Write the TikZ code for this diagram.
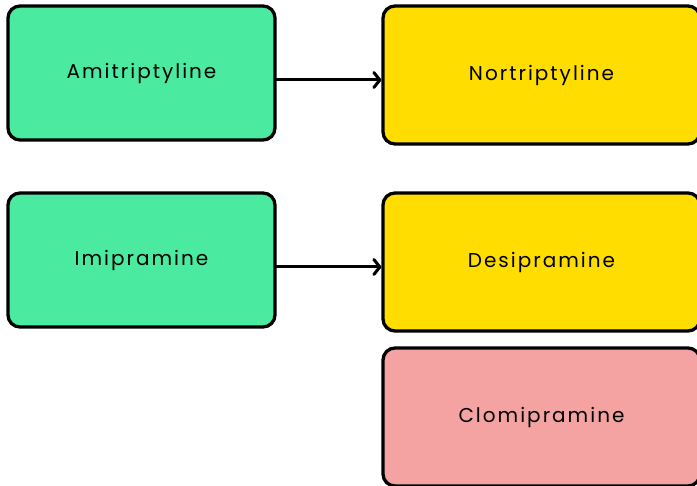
\documentclass[tikz,border=0pt]{standalone}
\usepackage{fontspec}
\setmainfont[LetterSpace=10]{Poppins}
\usetikzlibrary{arrows.meta}
\definecolor{drugGreen}{RGB}{74,235,160}
\definecolor{drugYellow}{RGB}{255,221,0}
\definecolor{drugPink}{RGB}{245,162,162}
\tikzset{
  drug/.style={draw=black, line width=3.3pt, rounded corners=12pt, font=\fontsize{20}{24}\selectfont},
  parent/.style={drug, fill=drugGreen, minimum width=267pt, minimum height=134pt},
  product/.style={drug, minimum width=317pt, minimum height=138pt},
  conv/.style={line width=3pt, line cap=round, -{Straight Barb[round,length=6pt,width=15pt]}}
}
\begin{document}
\begin{tikzpicture}[x=1pt,y=-1pt]
\useasboundingbox[fill=white] (0,0) rectangle (697,486);
\node[parent] (ami) at (141.5,73) {Amitriptyline};
\node[product, fill=drugYellow] (nor) at (541.5,75) {Nortriptyline};
\node[parent] (imi) at (141.5,260) {Imipramine};
\node[product, fill=drugYellow] (des) at (541.5,262) {Desipramine};
\node[product, fill=drugPink] (clo) at (541.5,417) {Clomipramine};
\draw[conv] (ami.east |- 0,80) -- (nor.west |- 0,80);
\draw[conv] (imi.east |- 0,267) -- (des.west |- 0,267);
\end{tikzpicture}
\end{document}
